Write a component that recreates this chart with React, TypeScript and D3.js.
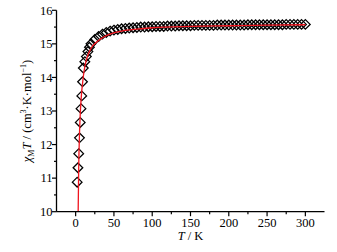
import React from "react";
import * as d3 from "d3";

const dataT = [2, 3, 4, 5, 6, 7, 8, 9, 10, 12, 14, 16, 18, 20, 25, 30, 35, 40, 45, 50, 55, 60, 65, 70, 75, 80, 85, 90, 95, 100, 105, 110, 115, 120, 125, 130, 135, 140, 145, 150, 155, 160, 165, 170, 175, 180, 185, 190, 195, 200, 205, 210, 215, 220, 225, 230, 235, 240, 245, 250, 255, 260, 265, 270, 275, 280, 285, 290, 295, 300];
const dataChiT = [10.88, 11.31, 11.73, 12.2, 12.66, 13.07, 13.45, 13.87, 14.28, 14.47, 14.62, 14.77, 14.9, 15.0, 15.13, 15.22, 15.29, 15.34, 15.38, 15.41, 15.43, 15.45, 15.46, 15.47, 15.48, 15.49, 15.5, 15.5, 15.51, 15.51, 15.52, 15.52, 15.52, 15.53, 15.53, 15.53, 15.54, 15.54, 15.54, 15.54, 15.55, 15.55, 15.55, 15.55, 15.55, 15.55, 15.56, 15.56, 15.56, 15.56, 15.56, 15.56, 15.56, 15.56, 15.57, 15.57, 15.57, 15.57, 15.57, 15.57, 15.57, 15.57, 15.57, 15.57, 15.58, 15.58, 15.58, 15.58, 15.58, 15.58];

const fitT = [3.3, 4, 5, 6, 7, 8, 9, 10, 12, 15, 20, 30, 45, 60, 80, 100, 150, 200, 250, 300];
const fitChiT = [10.0, 11.3, 12.3, 12.9, 13.3, 13.6, 13.82, 14.02, 14.32, 14.6, 14.86, 15.1, 15.29, 15.38, 15.44, 15.48, 15.52, 15.54, 15.56, 15.57];

const xTicks = [0, 50, 100, 150, 200, 250, 300];
const xMinor = [25, 75, 125, 175, 225, 275];
const yTicks = [10, 11, 12, 13, 14, 15, 16];
const yMinor = [10.5, 11.5, 12.5, 13.5, 14.5, 15.5];

const FONT = "Liberation Serif, DejaVu Serif, serif";

export default function App() {
  const W = 337, H = 252;
  const x = d3.scaleLinear().domain([-25, 325]).range([56.5, 324.5]);
  const y = d3.scaleLinear().domain([10, 16]).range([211.7, 10.3]);
  const line = d3
    .line<number>()
    .x((_, i) => x(fitT[i]))
    .y((_, i) => y(fitChiT[i]))
    .curve(d3.curveMonotoneX);
  const diamond = (cx: number, cy: number) => {
    const r = 4.8;
    return `M${cx},${cy - r}L${cx + r},${cy}L${cx},${cy + r}L${cx - r},${cy}Z`;
  };
  const x0 = x.range()[0];
  const y0 = y.range()[0];
  return (
    <svg width={W} height={H} style={{ position: "absolute", left: 0, top: 0, background: "#fff" }} fontFamily={FONT} fontSize={12.5}>
      <rect width={W} height={H} fill="#fff" />
      {dataT.map((t, i) => (
        <path key={i} d={diamond(x(t), y(dataChiT[i]))} fill="none" stroke="#000" strokeWidth={1.3} />
      ))}
      <path d={line(fitT) || ""} fill="none" stroke="#f0141e" strokeWidth={1.3} />
      <line x1={x0} x2={x0} y1={y.range()[1]} y2={y0} stroke="#000" strokeWidth={1.3} />
      <line x1={x0} x2={x.range()[1]} y1={y0} y2={y0} stroke="#000" strokeWidth={1.3} />
      {xTicks.map((t) => (
        <g key={"xt" + t}>
          <line x1={x(t)} x2={x(t)} y1={y0} y2={y0 + 4.5} stroke="#000" strokeWidth={1.2} />
          <text x={x(t)} y={227} textAnchor="middle" fill="#000">{t}</text>
        </g>
      ))}
      {xMinor.map((t) => (
        <line key={"xm" + t} x1={x(t)} x2={x(t)} y1={y0} y2={y0 + 2.5} stroke="#000" strokeWidth={1.2} />
      ))}
      {yTicks.map((t) => (
        <g key={"yt" + t}>
          <line x1={x0} x2={x0 - 4.5} y1={y(t)} y2={y(t)} stroke="#000" strokeWidth={1.2} />
          <text x={x0 - 4} y={y(t) + 4.3} textAnchor="end" fill="#000">{t}</text>
        </g>
      ))}
      {yMinor.map((t) => (
        <line key={"ym" + t} x1={x0} x2={x0 - 2.5} y1={y(t)} y2={y(t)} stroke="#000" strokeWidth={1.2} />
      ))}
      <text x={(x.range()[0] + x.range()[1]) / 2} y={240} textAnchor="middle" fill="#000">
        <tspan fontStyle="italic">T</tspan> / K
      </text>
      <text transform={`translate(31,${(y.range()[0] + y.range()[1]) / 2}) rotate(-90)`} textAnchor="middle" fill="#000">
        <tspan fontStyle="italic">χ</tspan>
        <tspan fontSize={8} dy={3}>M</tspan>
        <tspan fontStyle="italic" dy={-3}>T</tspan>
        <tspan> / (cm</tspan>
        <tspan fontSize={8} dy={-5}>3</tspan>
        <tspan dy={5}>·K·mol</tspan>
        <tspan fontSize={8} dy={-5}>−1</tspan>
        <tspan dy={5}>)</tspan>
      </text>
    </svg>
  );
}
